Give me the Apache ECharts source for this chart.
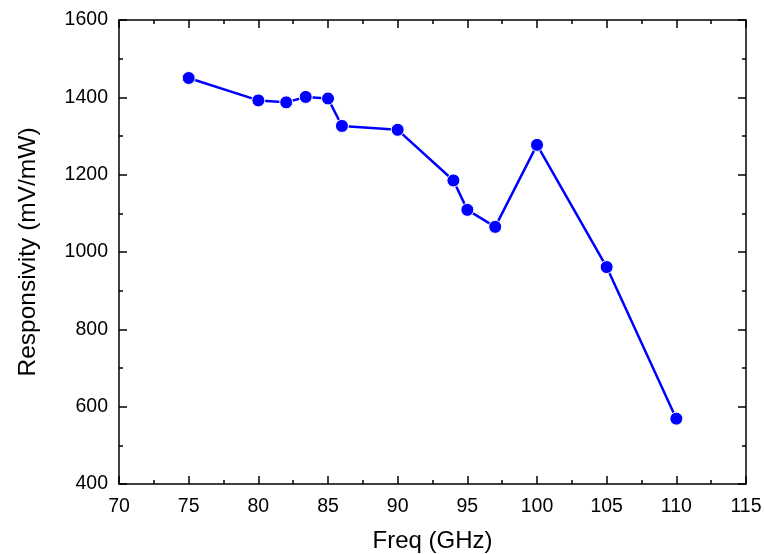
<!DOCTYPE html>
<html>
<head>
<meta charset="utf-8">
<script src="https://cdn.jsdelivr.net/npm/echarts@6/dist/echarts.min.js"></script>
<style>html,body{margin:0;padding:0;background:#fff}#c{width:765px;height:554px}</style>
</head>
<body>
<div id="c"></div>
<script>
var freq = [75, 80, 82, 83.4, 85, 86, 90, 94, 95, 97, 100, 105, 110];
var responsivity = [1450, 1392, 1387, 1401, 1397, 1326, 1316, 1185, 1109, 1065, 1277, 961, 569];
var xTitle = 'Freq (GHz)';
var yTitle = 'Responsivity (mV/mW)';

var font = 'Liberation Sans, Arial, sans-serif';
var axisLine = {show: true, lineStyle: {color: '#000', width: 1.5}};
var tick = {show: true, inside: true, length: 8, lineStyle: {color: '#000', width: 1.5}};
var minor = {show: true, splitNumber: 2, length: 4, lineStyle: {color: '#000', width: 1.5}};
var plain = function (v) { return String(v); };

var chart = echarts.init(document.getElementById('c'), null, {renderer: 'canvas'});
chart.setOption({
  animation: false,
  backgroundColor: '#fff',
  grid: {left: 119, right: 19, top: 20, bottom: 70, outerBoundsMode: 'none', containLabel: false},
  xAxis: [{
    type: 'value', min: 70, max: 115, interval: 5, position: 'bottom',
    name: xTitle, nameLocation: 'middle', nameGap: 45,
    nameTextStyle: {fontFamily: font, fontSize: 24, color: '#000'},
    axisLine: axisLine, axisTick: tick, minorTick: minor,
    axisLabel: {fontFamily: font, fontSize: 19.5, color: '#000', margin: 13, formatter: plain},
    splitLine: {show: false}
  }, {
    type: 'value', min: 70, max: 115, interval: 5, position: 'top',
    axisLine: axisLine, axisTick: tick, minorTick: minor,
    axisLabel: {show: false}, splitLine: {show: false}
  }],
  yAxis: [{
    type: 'value', min: 400, max: 1600, interval: 200, position: 'left',
    name: yTitle, nameLocation: 'middle', nameGap: 78,
    nameTextStyle: {fontFamily: font, fontSize: 24.5, color: '#000'},
    axisLine: axisLine, axisTick: tick, minorTick: minor,
    axisLabel: {fontFamily: font, fontSize: 19.5, color: '#000', margin: 11, formatter: plain},
    splitLine: {show: false}
  }, {
    type: 'value', min: 400, max: 1600, interval: 200, position: 'right',
    axisLine: axisLine, axisTick: tick, minorTick: minor,
    axisLabel: {show: false}, splitLine: {show: false}
  }],
  series: [{
    type: 'line',
    data: freq.map(function (f, i) { return [f, responsivity[i]]; }),
    symbol: 'circle', symbolSize: 13,
    lineStyle: {color: '#0000ff', width: 2.5},
    itemStyle: {color: '#0000ff', borderColor: '#fff', borderWidth: 1}
  }]
});
</script>
</body>
</html>
